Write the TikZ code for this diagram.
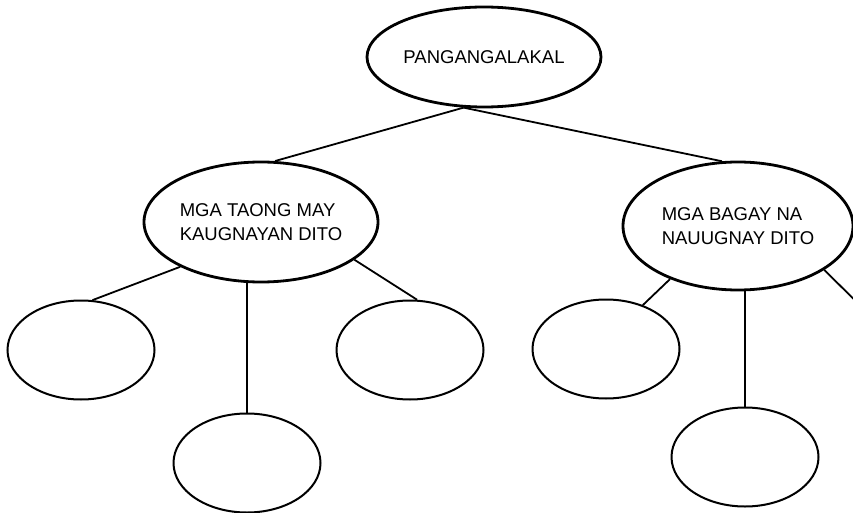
\documentclass[tikz,border=0pt]{standalone}
\usepackage{fontspec}
\setmainfont{Liberation Sans}
\usetikzlibrary{shapes.geometric}

\begin{document}
\begin{tikzpicture}[x=1pt, y=-1pt,
    topic/.style={ellipse, draw, line width=2.8pt, inner sep=0pt,
      align=left, font=\fontsize{18.5}{24}\selectfont},
    blank/.style={ellipse, draw, line width=2pt, inner sep=0pt,
      minimum width=147pt, minimum height=99pt},
    link/.style={line width=1.8pt}
  ]
  \clip (0,0) rectangle (853,513);

  % Main topic
  \node[topic, minimum width=234pt, minimum height=100pt] (kalakal) at (484,57)
    {PANGANGALAKAL};

  % Second level
  \node[topic, minimum width=234pt, minimum height=120pt] (taong) at (261,222)
    {MGA TAONG MAY\\KAUGNAYAN DITO};
  \node[topic, minimum width=230pt, minimum height=128pt] (bagay) at (738,226)
    {MGA BAGAY NA\\NAUUGNAY DITO};
  \draw[link] (kalakal.248) -- (taong.77);
  \draw[link] (kalakal.248) -- (bagay.104);

  % Empty boxes under the people
  \node[blank] (taongA) at (81,350) {};
  \node[blank] (taongB) at (247,463) {};
  \node[blank] (taongC) at (410,350) {};
  \draw[link] (taong.209) -- (taongA.77);
  \draw[link] (taongB.north) -- (taongB.north |- taong.south);
  \draw[link] (taong.338) -- (taongC.82);

  % Empty boxes under the things
  \node[blank] (bagayA) at (606,349) {};
  \node[blank] (bagayB) at (745,457) {};
  \coordinate (bagayC) at (880,325);
  \draw[link] (bagay.218) -- (bagayA.50);
  \draw[link] (bagayB.north) -- (bagayB.north |- bagay.south);
  \draw[link] (bagay.333) -- (bagayC);
\end{tikzpicture}
\end{document}
